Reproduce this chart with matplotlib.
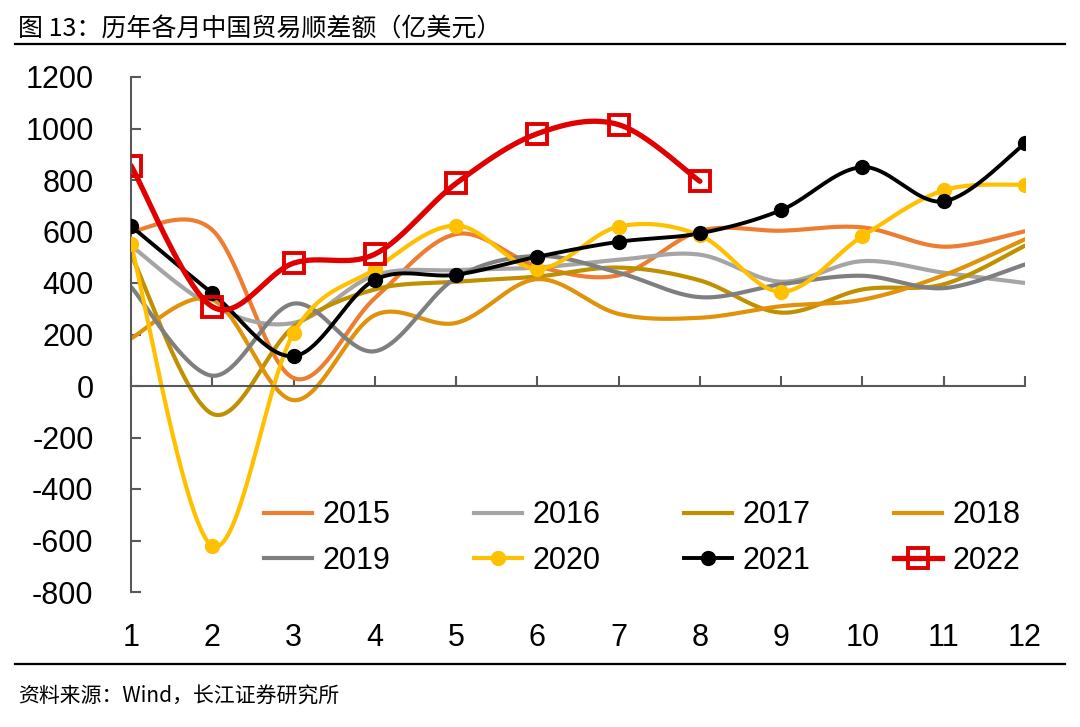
import numpy as np
import matplotlib
matplotlib.use("Agg")
import matplotlib.pyplot as plt
from matplotlib.lines import Line2D

plt.rcParams['font.family'] = ['Liberation Sans', 'Noto Sans CJK SC', 'DejaVu Sans']
plt.rcParams['axes.unicode_minus'] = False

# 月份和各年贸易顺差（亿美元）
months = np.arange(1, 13)
years = ['2015', '2016', '2017', '2018', '2019', '2020', '2021', '2022']
v2015 = [600, 606, 31, 341, 590, 465, 430, 602, 603, 616, 541, 601]
v2016 = [545, 310, 245, 430, 450, 460, 490, 510, 405, 485, 440, 400]
v2017 = [510, -108, 230, 375, 405, 425, 460, 410, 285, 375, 395, 545]
v2018 = [185, 335, -55, 275, 245, 415, 280, 265, 310, 335, 430, 570]
v2019 = [385, 40, 320, 135, 420, 505, 440, 345, 395, 428, 380, 472]
v2020 = [550, -621, 205, 454, 623, 455, 619, 585, 366, 582, 760, 782]
v2021 = [621, 360, 116, 412, 432, 502, 560, 593, 683, 850, 717, 942]
v2022 = [856, 308, 477, 512, 787, 980, 1015, 795]
series = [v2015, v2016, v2017, v2018, v2019, v2020, v2021, v2022]

colors = ['#ED7D31', '#A5A5A5', '#BF9000', '#E0920A', '#7F7F7F', '#FFC000', '#000000', '#E00000']
widths = [3, 3, 3, 3, 3, 3, 2.8, 3.8]
markers = [None, None, None, None, None, 'o', 'o', 's']


def smooth(x, y, n=40):
    # Excel 风格的平滑曲线（贝塞尔）
    x = np.asarray(x, float)
    y = np.asarray(y, float)
    px, py = [], []
    m = len(x)
    for i in range(m - 1):
        x0, y0 = (x[i - 1], y[i - 1]) if i > 0 else (x[i], y[i])
        x3, y3 = (x[i + 2], y[i + 2]) if i + 2 < m else (x[i + 1], y[i + 1])
        x1, y1 = x[i], y[i]
        x2, y2 = x[i + 1], y[i + 1]
        c1x, c1y = x1 + (x2 - x0) / 6, y1 + (y2 - y0) / 6
        c2x, c2y = x2 - (x3 - x1) / 6, y2 - (y3 - y1) / 6
        t = np.linspace(0, 1, n)
        px.append((1 - t) ** 3 * x1 + 3 * (1 - t) ** 2 * t * c1x + 3 * (1 - t) * t ** 2 * c2x + t ** 3 * x2)
        py.append((1 - t) ** 3 * y1 + 3 * (1 - t) ** 2 * t * c1y + 3 * (1 - t) * t ** 2 * c2y + t ** 3 * y2)
    return np.concatenate(px), np.concatenate(py)


fig = plt.figure(figsize=(10.8, 7.27), dpi=100)
ax = fig.add_axes([131 / 1080, 1 - 592 / 727, (1025 - 131) / 1080, (592 - 77) / 727])

handles = []
for name, vals, c, lw, mk in zip(years, series, colors, widths, markers):
    xs = months[:len(vals)]
    sx, sy = smooth(xs, vals)
    ax.plot(sx, sy, color=c, lw=lw, solid_capstyle='round', zorder=2)
    if mk == 's':
        ax.plot(xs, vals, ls='none', marker='s', ms=14, mfc='none', mec=c, mew=2.8, zorder=3)
        h = Line2D([], [], color=c, lw=lw, marker='s', ms=14, mfc='none', mec=c, mew=2.8)
    elif mk == 'o':
        ax.plot(xs, vals, ls='none', marker='o', ms=10, color=c, zorder=3)
        h = Line2D([], [], color=c, lw=lw, marker='o', ms=10)
    else:
        h = Line2D([], [], color=c, lw=lw)
    handles.append(h)

ax.set_xlim(1, 12)
ax.set_ylim(-800, 1200)
ax.set_yticks(np.arange(-800, 1201, 200))
ax.set_xticks(months)

for s in ['top', 'right']:
    ax.spines[s].set_visible(False)
for s in ['left', 'bottom']:
    ax.spines[s].set_color('#595959')
    ax.spines[s].set_linewidth(1.5)
ax.spines['bottom'].set_position(('data', 0))
ax.tick_params(axis='x', direction='in', length=7, width=1.5, color='#595959', labelbottom=False)
ax.tick_params(axis='y', direction='in', length=7, width=1.5, color='#595959', labelsize=22, pad=27)

sec = ax.secondary_xaxis('bottom')
sec.set_xticks(months)
sec.spines['bottom'].set_visible(False)
sec.tick_params(length=0, pad=22, labelsize=22)

# 图例按行排列
order = [0, 4, 1, 5, 2, 6, 3, 7]
ax.legend([handles[i] for i in order], [years[i] for i in order], ncol=4, frameon=False, fontsize=22,
          loc='upper left', bbox_to_anchor=(0.149, 0.178), borderpad=0, borderaxespad=0,
          handlelength=1.57, handletextpad=0.33, columnspacing=2.75, labelspacing=0.5)

# 标题、来源和横线
fig.text(18 / 1080, 1 - 30 / 727, '图 13：历年各月中国贸易顺差额（亿美元）', fontsize=18,
         family=['Noto Sans CJK SC', 'DejaVu Sans'], va='center', ha='left')
fig.text(18 / 1080, 1 - 697 / 727, '资料来源：Wind，长江证券研究所', fontsize=15,
         family=['Noto Sans CJK SC', 'DejaVu Sans'], va='center', ha='left')
fig.add_artist(Line2D([15 / 1080, 1065 / 1080], [1 - 44 / 727] * 2, color='black', lw=1.6))
fig.add_artist(Line2D([15 / 1080, 1065 / 1080], [1 - 664 / 727] * 2, color='black', lw=1.6))

fig.savefig('out.png', dpi=100)
